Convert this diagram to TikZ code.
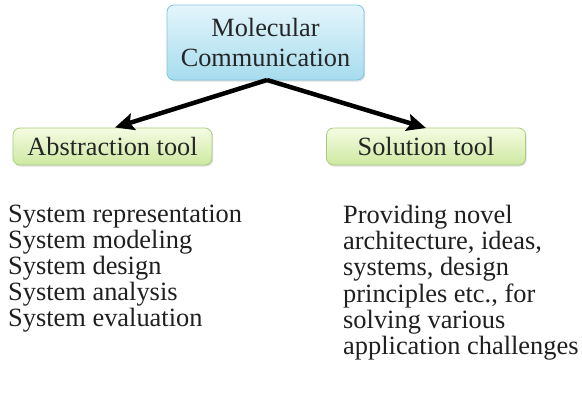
\documentclass[tikz,border=0pt]{standalone}
\usepackage{fontspec}
\setmainfont{Liberation Serif}
\usetikzlibrary{arrows.meta,shadows}

\definecolor{mcTop}{HTML}{E4F5FB}
\definecolor{mcBot}{HTML}{A6DCEE}
\definecolor{mcLine}{HTML}{7FC3DC}
\definecolor{toolTop}{HTML}{F5FBE2}
\definecolor{toolBot}{HTML}{CDE9A2}
\definecolor{toolLine}{HTML}{A9CB7C}

\tikzset{
  boxbase/.style={rounded corners=7bp, line width=0.8bp, inner sep=0pt,
    font=\fontsize{26.4}{27}\selectfont, text=black!85, align=center,
    drop shadow={shadow xshift=1.2bp, shadow yshift=-1.5bp, opacity=0.25}},
  topbox/.style={boxbase, draw=mcLine, top color=mcTop, bottom color=mcBot,
    minimum width=197bp, minimum height=75bp},
  toolbox/.style={boxbase, draw=toolLine, top color=toolTop, bottom color=toolBot,
    minimum width=199bp, minimum height=37bp},
  listtext/.style={anchor=north west, inner sep=0pt, align=left,
    font=\fontsize{26.5}{26.3}\selectfont, text=black!88},
  link/.style={line width=4.5bp, -{Stealth[length=19bp, width=17bp, inset=3.5bp]}}
}

\begin{document}
\begin{tikzpicture}[x=1bp, y=-1bp]
  \useasboundingbox (0,0) rectangle (582,394);

  % root concept
  \node[topbox] (mc) at (265.5,42.5) {Molecular\\[2.5bp]Communication};

  % the two roles
  \node[toolbox] (abs) at (112.5,146.5) {Abstraction tool};
  \node[toolbox] (sol) at (426,146.5) {Solution tool};

  % connectors from the root
  \coordinate (fork) at (267,80);
  \coordinate (absTip) at (115,127.5);
  \coordinate (solTip) at (426,128);
  \draw[link] (fork) -- (absTip);
  \draw[link] (fork) -- (solTip);

  % descriptions under each role
  \node[listtext] (absList) at (8,204.5) {System representation\\System modeling\\System design\\System analysis\\System evaluation};
  \node[listtext] (solList) at (343,205) {Providing novel\\architecture, ideas,\\systems, design\\principles etc., for\\solving various\\application challenges};
\end{tikzpicture}
\end{document}
